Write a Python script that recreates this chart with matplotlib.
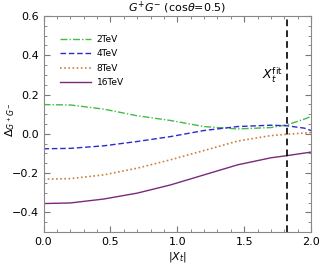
import matplotlib
matplotlib.use("Agg")
import matplotlib.pyplot as plt
from matplotlib.ticker import MultipleLocator

x = [0.0, 0.2, 0.45, 0.7, 0.95, 1.2, 1.45, 1.7, 1.82, 1.95, 2.0]
d2 = [0.149, 0.147, 0.126, 0.092, 0.068, 0.037, 0.025, 0.032, 0.046, 0.075, 0.088]
d4 = [-0.076, -0.074, -0.061, -0.039, -0.014, 0.017, 0.037, 0.044, 0.041, 0.029, 0.017]
d8 = [-0.231, -0.228, -0.209, -0.175, -0.132, -0.085, -0.037, -0.009, -0.002, 0.004, 0.007]
d16 = [-0.355, -0.352, -0.332, -0.302, -0.260, -0.209, -0.158, -0.122, -0.111, -0.098, -0.093]
labels = ["2TeV", "4TeV", "8TeV", "16TeV"]
xfit = 1.82

fig = plt.figure(figsize=(3.2, 2.67), dpi=100)
ax = fig.add_axes([0.136, 0.131, 0.836, 0.809])
ax.plot(x, d2, color="#44bb44", ls=(0, (5, 1.5, 1, 1.5)), lw=1.0, label=labels[0])
ax.plot(x, d4, color="#2a2ad0", ls=(0, (4, 2)), lw=1.0, label=labels[1])
ax.plot(x, d8, color="#cc8040", ls=(0, (1, 1.5)), lw=1.2, label=labels[2])
ax.plot(x, d16, color="#7a2a7a", ls="-", lw=1.0, label=labels[3])
ax.axvline(xfit, color="black", ls=(0, (4, 2.5)), lw=1.2)
ax.text(xfit - 0.03, 0.30, r"$X_t^{\rm fit}$", ha="right", va="center", fontsize=9)

ax.set_xlim(0, 2)
ax.set_ylim(-0.5, 0.6)
ax.xaxis.set_major_locator(MultipleLocator(0.5))
ax.xaxis.set_minor_locator(MultipleLocator(0.1))
ax.yaxis.set_major_locator(MultipleLocator(0.2))
ax.yaxis.set_minor_locator(MultipleLocator(0.05))
ax.tick_params(which="both", direction="in", top=True, right=True, labelsize=8, color="#777777")
ax.tick_params(which="major", length=4)
ax.tick_params(which="minor", length=2)
for s in ax.spines.values():
    s.set_color("#888888")
    s.set_linewidth(0.8)
ax.set_xticklabels([f"{v:.1f}" for v in ax.get_xticks()])
ax.set_yticklabels([f"{v:.1f}".replace("-", "\u2212") for v in ax.get_yticks()])
ax.set_xlabel(r"$|X_t|$", fontsize=8, labelpad=2)
ax.set_ylabel(r"$\Delta_{G^+G^-}$", fontsize=8)
ax.yaxis.set_label_coords(-0.1, 0.52)
ax.set_title(r"$G^{+}G^{-}$ (cos$\theta$=0.5)", fontsize=8, pad=3)
ax.legend(loc="upper left", bbox_to_anchor=(0.03, 0.95), frameon=False, fontsize=6.5,
          handlelength=3.5, labelspacing=0.6, handletextpad=0.6)
fig.savefig("out.png", dpi=100)
